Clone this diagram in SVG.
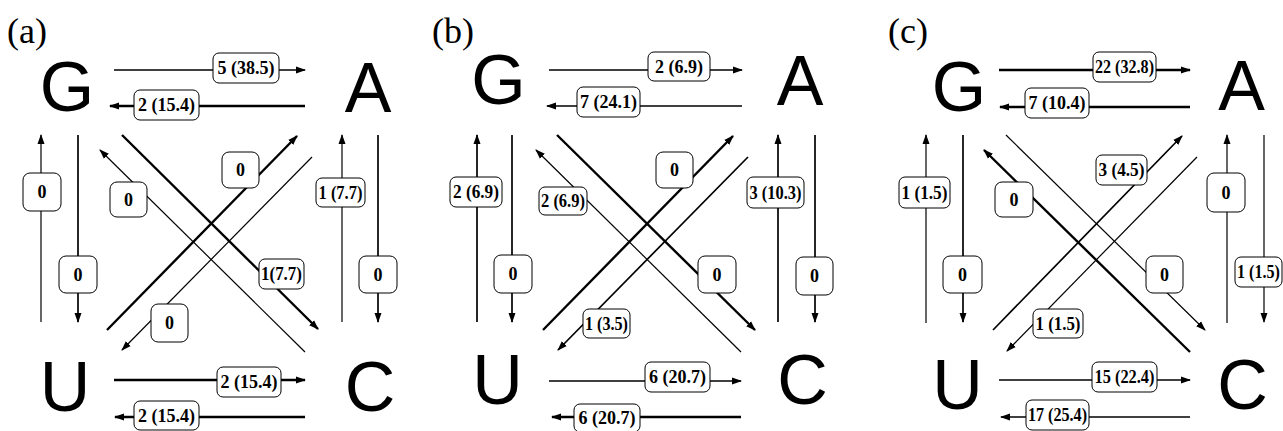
<svg xmlns="http://www.w3.org/2000/svg" width="1283" height="431" viewBox="0 0 1283 431">
<defs>
<marker id="ah" markerUnits="userSpaceOnUse" markerWidth="10" markerHeight="8" refX="9" refY="4" orient="auto">
<path d="M0,0.5 L10,4 L0,7.5 z" fill="#000"/>
</marker>
<style>
.bg{fill:#fff}
.nt{font-family:"Liberation Sans",Arial,sans-serif;font-size:70px;fill:#000;text-anchor:middle}
.pl{font-family:"Liberation Serif","Times New Roman",serif;font-size:36px;fill:#000}
line{stroke:#000;fill:none}
.w1{stroke-width:1.2}
.w2{stroke-width:1.7}
.w3{stroke-width:2.4}
.ar{marker-end:url(#ah)}
rect.lb{fill:#fff;stroke:#000;stroke-width:1}
text.lt{font-family:"Liberation Serif","Times New Roman",serif;font-weight:bold;font-size:18px;fill:#000;text-anchor:middle}
</style>
</defs>
<rect class="bg" x="0" y="0" width="1283" height="431"/>

<!-- panel labels -->
<text class="pl" x="7" y="43">(a)</text>
<text class="pl" x="432" y="43">(b)</text>
<text class="pl" x="888" y="43">(c)</text>

<!-- Nodes panel a -->
<g id="a-G"><text class="nt" x="67" y="111">G</text></g>
<g id="a-A"><text class="nt" x="368" y="112">A</text></g>
<g id="a-U"><text class="nt" x="65" y="411">U</text></g>
<g id="a-C"><text class="nt" x="370" y="411">C</text></g>
<!-- Nodes panel b -->
<g id="b-G"><text class="nt" x="498.5" y="104">G</text></g>
<g id="b-A"><text class="nt" x="800" y="105">A</text></g>
<g id="b-U"><text class="nt" x="497.5" y="404">U</text></g>
<g id="b-C"><text class="nt" x="802.5" y="404">C</text></g>
<!-- Nodes panel c -->
<g id="c-G"><text class="nt" x="959" y="111">G</text></g>
<g id="c-A"><text class="nt" x="1241.5" y="110">A</text></g>
<g id="c-U"><text class="nt" x="957.5" y="409">U</text></g>
<g id="c-C"><text class="nt" x="1242.5" y="409">C</text></g>

<g id="connectors">
<!-- panel a -->
<g id="a-GA"><line class="w2 ar" x1="114" y1="70" x2="305" y2="70"/><rect class="lb" x="213" y="53" width="66" height="30" rx="6"/><text class="lt" x="246" y="74">5 (38.5)</text></g>
<g id="a-AG"><line class="w3 ar" x1="305" y1="106" x2="110" y2="106"/><rect class="lb" x="134" y="90" width="65" height="30" rx="6"/><text class="lt" x="166.5" y="111">2 (15.4)</text></g>
<g id="a-UG"><line class="w1 ar" x1="41" y1="322" x2="41" y2="135"/><rect class="lb" x="23" y="173" width="38" height="38" rx="7"/><text class="lt" x="42" y="198">0</text></g>
<g id="a-GU"><line class="w2 ar" x1="78" y1="135" x2="78" y2="322"/><rect class="lb" x="59" y="256" width="38" height="37" rx="7"/><text class="lt" x="78" y="280.5">0</text></g>
<g id="a-CA"><line class="w1 ar" x1="342" y1="322" x2="342" y2="135"/><rect class="lb" x="316" y="178" width="49" height="29" rx="6"/><text class="lt" x="340.5" y="198.5" textLength="44" lengthAdjust="spacingAndGlyphs">1 (7.7)</text></g>
<g id="a-AC"><line class="w2 ar" x1="378" y1="135" x2="378" y2="322"/><rect class="lb" x="359" y="256" width="38" height="37" rx="7"/><text class="lt" x="378" y="280.5">0</text></g>
<g id="a-GC"><line class="w3 ar" x1="122" y1="135" x2="318" y2="329"/><rect class="lb" x="259" y="259" width="45" height="30" rx="6"/><text class="lt" x="281.5" y="280" textLength="41" lengthAdjust="spacingAndGlyphs">1(7.7)</text></g>
<g id="a-CG"><line class="w1 ar" x1="305" y1="352" x2="100" y2="150"/><rect class="lb" x="110" y="182" width="37" height="35" rx="7"/><text class="lt" x="128.5" y="205.5">0</text></g>
<g id="a-UA"><line class="w3 ar" x1="107" y1="330" x2="297" y2="136"/><rect class="lb" x="222" y="152" width="37" height="36" rx="7"/><text class="lt" x="240.5" y="176">0</text></g>
<g id="a-AU"><line class="w1 ar" x1="312" y1="157" x2="122" y2="350"/><rect class="lb" x="151" y="304" width="37" height="38" rx="7"/><text class="lt" x="169.5" y="329">0</text></g>
<g id="a-UC"><line class="w3 ar" x1="114" y1="380" x2="305" y2="380"/><rect class="lb" x="217" y="367" width="64" height="30" rx="6"/><text class="lt" x="249" y="388">2 (15.4)</text></g>
<g id="a-CU"><line class="w3 ar" x1="305" y1="417" x2="115" y2="417"/><rect class="lb" x="134" y="401" width="65" height="29" rx="6"/><text class="lt" x="166.5" y="422">2 (15.4)</text></g>

<!-- panel b -->
<g id="b-GA"><line class="w2 ar" x1="549" y1="70" x2="742" y2="70"/><rect class="lb" x="648" y="52" width="62" height="29" rx="6"/><text class="lt" x="679" y="72.5">2 (6.9)</text></g>
<g id="b-AG"><line class="w2 ar" x1="742" y1="106" x2="547" y2="106"/><rect class="lb" x="577" y="87" width="63" height="30" rx="6"/><text class="lt" x="608.5" y="108">7 (24.1)</text></g>
<g id="b-UG"><line class="w2 ar" x1="477" y1="322" x2="477" y2="135"/><rect class="lb" x="450" y="177" width="52" height="30" rx="6"/><text class="lt" x="476" y="198" textLength="46" lengthAdjust="spacingAndGlyphs">2 (6.9)</text></g>
<g id="b-GU"><line class="w2 ar" x1="512" y1="135" x2="512" y2="322"/><rect class="lb" x="494" y="255" width="38" height="38" rx="7"/><text class="lt" x="513" y="280">0</text></g>
<g id="b-CA"><line class="w2 ar" x1="778" y1="322" x2="778" y2="135"/><rect class="lb" x="747" y="177" width="57" height="31" rx="6"/><text class="lt" x="775.5" y="198.5" textLength="52" lengthAdjust="spacingAndGlyphs">3 (10.3)</text></g>
<g id="b-AC"><line class="w2 ar" x1="815" y1="135" x2="815" y2="322"/><rect class="lb" x="796" y="257" width="37" height="38" rx="7"/><text class="lt" x="814.5" y="282">0</text></g>
<g id="b-GC"><line class="w3 ar" x1="557" y1="135" x2="755" y2="330"/><rect class="lb" x="698" y="256" width="38" height="37" rx="7"/><text class="lt" x="717" y="280.5">0</text></g>
<g id="b-CG"><line class="w1 ar" x1="741" y1="352" x2="536" y2="150"/><rect class="lb" x="539" y="187" width="48" height="28" rx="6"/><text class="lt" x="563" y="207" textLength="44" lengthAdjust="spacingAndGlyphs">2 (6.9)</text></g>
<g id="b-UA"><line class="w3 ar" x1="543" y1="330" x2="733" y2="136"/><rect class="lb" x="656" y="152" width="37" height="36" rx="7"/><text class="lt" x="674.5" y="176">0</text></g>
<g id="b-AU"><line class="w2 ar" x1="748" y1="157" x2="558" y2="350"/><rect class="lb" x="583" y="309" width="47" height="29" rx="6"/><text class="lt" x="606.5" y="329.5" textLength="43" lengthAdjust="spacingAndGlyphs">1 (3.5)</text></g>
<g id="b-UC"><line class="w2 ar" x1="549" y1="381" x2="741" y2="381"/><rect class="lb" x="645" y="362" width="65" height="30" rx="6"/><text class="lt" x="677.5" y="383">6 (20.7)</text></g>
<g id="b-CU"><line class="w3 ar" x1="741" y1="417" x2="552" y2="417"/><rect class="lb" x="574" y="404" width="66" height="28" rx="6"/><text class="lt" x="607" y="424">6 (20.7)</text></g>

<!-- panel c -->
<g id="c-GA"><line class="w3 ar" x1="999" y1="70" x2="1190" y2="70"/><rect class="lb" x="1093" y="52" width="63" height="30" rx="6"/><text class="lt" x="1124.5" y="73" textLength="59" lengthAdjust="spacingAndGlyphs">22 (32.8)</text></g>
<g id="c-AG"><line class="w3 ar" x1="1190" y1="107" x2="1000" y2="107"/><rect class="lb" x="1025" y="88" width="64" height="30" rx="6"/><text class="lt" x="1057" y="109">7 (10.4)</text></g>
<g id="c-UG"><line class="w1 ar" x1="926" y1="323" x2="926" y2="135"/><rect class="lb" x="899" y="177" width="51" height="31" rx="6"/><text class="lt" x="924.5" y="198.5" textLength="46" lengthAdjust="spacingAndGlyphs">1 (1.5)</text></g>
<g id="c-GU"><line class="w2 ar" x1="963" y1="135" x2="963" y2="322"/><rect class="lb" x="943" y="256" width="39" height="37" rx="7"/><text class="lt" x="962.5" y="280.5">0</text></g>
<g id="c-CA"><line class="w1 ar" x1="1227" y1="323" x2="1227" y2="135"/><rect class="lb" x="1207" y="173" width="38" height="39" rx="7"/><text class="lt" x="1226" y="198.5">0</text></g>
<g id="c-AC"><line class="w1 ar" x1="1264" y1="135" x2="1264" y2="322"/><rect class="lb" x="1235" y="257" width="47" height="30" rx="6"/><text class="lt" x="1258.5" y="278" textLength="43" lengthAdjust="spacingAndGlyphs">1 (1.5)</text></g>
<g id="c-GC"><line class="w1 ar" x1="1006" y1="135" x2="1205" y2="330"/><rect class="lb" x="1146" y="256" width="37" height="37" rx="7"/><text class="lt" x="1164.5" y="280.5">0</text></g>
<g id="c-CG"><line class="w3 ar" x1="1190" y1="352" x2="984" y2="150"/><rect class="lb" x="995" y="182" width="38" height="35" rx="7"/><text class="lt" x="1014" y="205.5">0</text></g>
<g id="c-UA"><line class="w2 ar" x1="993" y1="330" x2="1182" y2="136"/><rect class="lb" x="1096" y="155" width="51" height="30" rx="6"/><text class="lt" x="1121.5" y="176" textLength="46" lengthAdjust="spacingAndGlyphs">3 (4.5)</text></g>
<g id="c-AU"><line class="w1 ar" x1="1197" y1="157" x2="1007" y2="351"/><rect class="lb" x="1033" y="309" width="50" height="29" rx="6"/><text class="lt" x="1058" y="329.5" textLength="45" lengthAdjust="spacingAndGlyphs">1 (1.5)</text></g>
<g id="c-UC"><line class="w2 ar" x1="999" y1="380" x2="1190" y2="380"/><rect class="lb" x="1092" y="362" width="65" height="30" rx="6"/><text class="lt" x="1124.5" y="383" textLength="60" lengthAdjust="spacingAndGlyphs">15 (22.4)</text></g>
<g id="c-CU"><line class="w2 ar" x1="1190" y1="417" x2="1001" y2="417"/><rect class="lb" x="1026" y="400" width="63" height="30" rx="6"/><text class="lt" x="1057.5" y="421" textLength="59" lengthAdjust="spacingAndGlyphs">17 (25.4)</text></g>
</g>
</svg>
